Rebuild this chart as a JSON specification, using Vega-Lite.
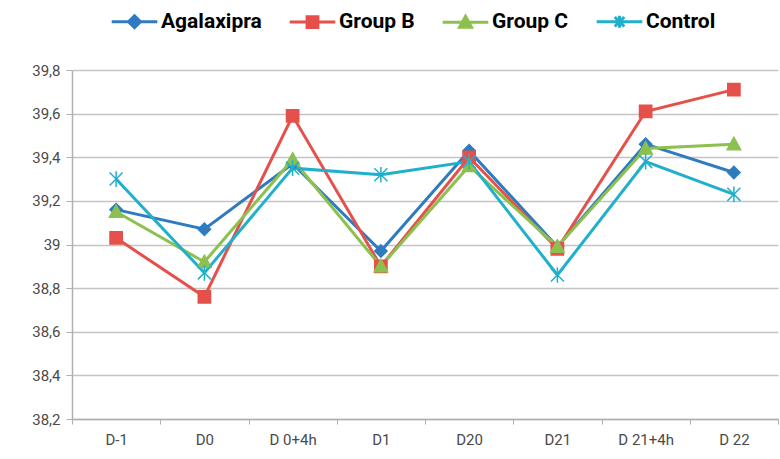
{
  "$schema": "https://vega.github.io/schema/vega-lite/v6.json",
  "width": 706,
  "height": 349,
  "autosize": {"type": "none"},
  "padding": {"left": 72, "top": 70, "right": 2, "bottom": 40},
  "config": {
    "view": {"stroke": null},
    "font": "Roboto",
    "locale": {"number": {"decimal": ",", "thousands": ".", "grouping": [3], "currency": ["", "€"]}}
  },
  "data": {
    "values": [
      {"series": "Agalaxipra", "day": "D-1", "value": 39.16},
      {"series": "Agalaxipra", "day": "D0", "value": 39.07},
      {"series": "Agalaxipra", "day": "D 0+4h", "value": 39.37},
      {"series": "Agalaxipra", "day": "D1", "value": 38.97},
      {"series": "Agalaxipra", "day": "D20", "value": 39.43},
      {"series": "Agalaxipra", "day": "D21", "value": 38.99},
      {"series": "Agalaxipra", "day": "D 21+4h", "value": 39.46},
      {"series": "Agalaxipra", "day": "D 22", "value": 39.33},
      {"series": "Group B", "day": "D-1", "value": 39.03},
      {"series": "Group B", "day": "D0", "value": 38.76},
      {"series": "Group B", "day": "D 0+4h", "value": 39.59},
      {"series": "Group B", "day": "D1", "value": 38.9},
      {"series": "Group B", "day": "D20", "value": 39.4},
      {"series": "Group B", "day": "D21", "value": 38.98},
      {"series": "Group B", "day": "D 21+4h", "value": 39.61},
      {"series": "Group B", "day": "D 22", "value": 39.71},
      {"series": "Group C", "day": "D-1", "value": 39.15},
      {"series": "Group C", "day": "D0", "value": 38.92},
      {"series": "Group C", "day": "D 0+4h", "value": 39.39},
      {"series": "Group C", "day": "D1", "value": 38.9},
      {"series": "Group C", "day": "D20", "value": 39.36},
      {"series": "Group C", "day": "D21", "value": 38.99},
      {"series": "Group C", "day": "D 21+4h", "value": 39.44},
      {"series": "Group C", "day": "D 22", "value": 39.46},
      {"series": "Control", "day": "D-1", "value": 39.3},
      {"series": "Control", "day": "D0", "value": 38.87},
      {"series": "Control", "day": "D 0+4h", "value": 39.35},
      {"series": "Control", "day": "D1", "value": 39.32},
      {"series": "Control", "day": "D20", "value": 39.38},
      {"series": "Control", "day": "D21", "value": 38.86},
      {"series": "Control", "day": "D 21+4h", "value": 39.38},
      {"series": "Control", "day": "D 22", "value": 39.23}
    ]
  },
  "encoding": {
    "x": {
      "field": "day",
      "type": "ordinal",
      "sort": ["D-1", "D0", "D 0+4h", "D1", "D20", "D21", "D 21+4h", "D 22"],
      "scale": {"type": "band", "paddingInner": 0, "paddingOuter": 0},
      "axis": {
        "title": null,
        "labelAngle": 0,
        "tickBand": "extent",
        "grid": false,
        "domainColor": "#b0b0b0",
        "domainWidth": 1.5,
        "tickColor": "#b0b0b0",
        "tickSize": 5,
        "labelFontSize": 15,
        "labelColor": "#4a4a4a",
        "labelPadding": 8
      }
    },
    "y": {
      "field": "value",
      "type": "quantitative",
      "scale": {"domain": [38.2, 39.8], "zero": false, "nice": false},
      "axis": {
        "title": null,
        "values": [38.2, 38.4, 38.6, 38.8, 39, 39.2, 39.4, 39.6, 39.8],
        "format": ".1~f",
        "grid": true,
        "gridColor": "#c4c4c4",
        "gridWidth": 1.5,
        "domainColor": "#b0b0b0",
        "domainWidth": 1.5,
        "tickColor": "#b0b0b0",
        "tickSize": 6,
        "labelFontSize": 15,
        "labelColor": "#4a4a4a",
        "labelPadding": 6
      }
    },
    "color": {
      "field": "series",
      "type": "nominal",
      "sort": ["Agalaxipra", "Group B", "Group C", "Control"],
      "scale": {
        "domain": ["Agalaxipra", "Group B", "Group C", "Control"],
        "range": ["#2f7bbf", "#e5504b", "#8cc04f", "#21b0cb"]
      },
      "legend": {
        "orient": "none",
        "legendX": 52,
        "legendY": -59,
        "title": null,
        "direction": "horizontal",
        "labelFontSize": 21,
        "labelFontWeight": "bold",
        "labelColor": "#000000",
        "symbolSize": 144,
        "symbolType": "circle",
        "labelOffset": 16,
        "columnPadding": 21,
        "encode": {
          "symbols": {
            "update": {
              "shape": {"signal": "datum.value == 'Agalaxipra' ? 'M-3.8,0H3.8M0,-1L1,0L0,1L-1,0Z' : datum.value == 'Group B' ? 'M-3.8,0H3.8M-0.9,-0.9H0.9V0.9H-0.9Z' : datum.value == 'Group C' ? 'M-3.8,0H3.8M0,-1L1,0.8H-1Z' : 'M-3.8,0H3.8M-0.8,-0.8L0.8,0.8M-0.8,0.8L0.8,-0.8M0,-1V1'"},
              "fill": {"signal": "scale('color', datum.value)"},
              "stroke": {"signal": "scale('color', datum.value)"},
              "strokeWidth": {"value": 3},
              "opacity": {"value": 1}
            }
          }
        }
      }
    }
  },
  "layer": [
    {
      "mark": {"type": "line", "strokeWidth": 3}
    },
    {
      "transform": [{"filter": "datum.series == 'Agalaxipra'"}],
      "mark": {"type": "point", "filled": true, "opacity": 1, "size": 150, "strokeWidth": 1.5, "stroke": "#2f7bbf", "shape": "M0,-1L1,0L0,1L-1,0Z"}
    },
    {
      "transform": [{"filter": "datum.series == 'Group B'"}],
      "mark": {"type": "point", "filled": true, "opacity": 1, "size": 150, "strokeWidth": 1.5, "stroke": "#e5504b", "shape": "M-1,-1H1V1H-1Z"}
    },
    {
      "transform": [{"filter": "datum.series == 'Group C'"}],
      "mark": {"type": "point", "filled": true, "opacity": 1, "size": 150, "strokeWidth": 1.5, "stroke": "#8cc04f", "shape": "M0,-1.1L1.1,0.9H-1.1Z"}
    },
    {
      "transform": [{"filter": "datum.series == 'Control'"}],
      "mark": {"type": "point", "filled": true, "opacity": 1, "size": 170, "strokeWidth": 1.5, "stroke": "#21b0cb", "shape": "M-1,-1L1,1M-1,1L1,-1M0,-1.2V1.2"}
    }
  ]
}
